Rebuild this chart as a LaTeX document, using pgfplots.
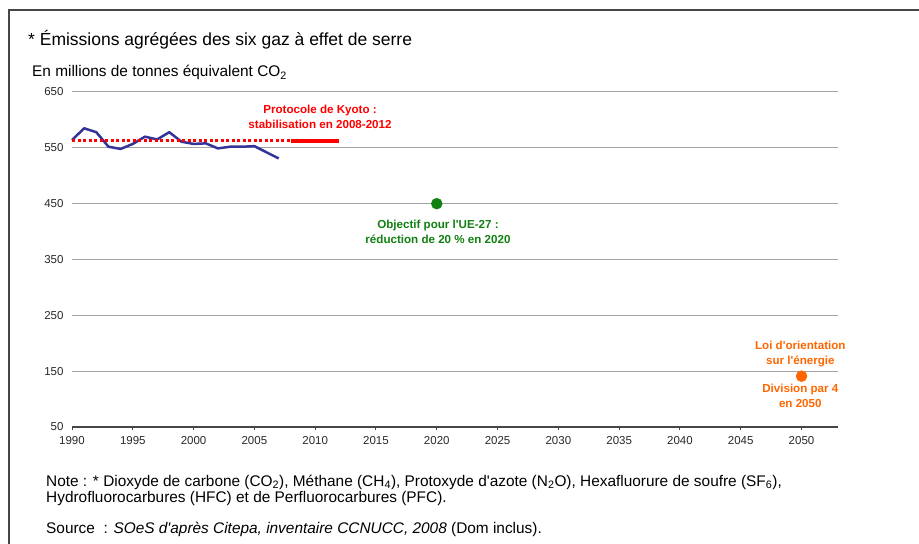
\documentclass[border=0pt]{standalone}
\usepackage{fontspec}
\setmainfont{Liberation Sans}
\usepackage{pgfplots}
\pgfplotsset{compat=1.18}
\definecolor{navy}{RGB}{51,51,153}
\definecolor{kred}{RGB}{255,0,0}
\definecolor{kgreen}{RGB}{16,128,16}
\definecolor{korange}{RGB}{255,102,0}
\definecolor{gridgray}{RGB}{165,165,165}
\definecolor{framegray}{RGB}{70,70,70}
\definecolor{ticktext}{RGB}{40,40,40}
\newcommand{\q}{\textquotesingle}
\begin{document}
\begin{tikzpicture}[x=1bp,y=1bp]
\path[use as bounding box] (0,0) rectangle (919,-544);
\draw[framegray, line width=1.5bp] (9,-544) -- (9,-10) -- (919,-10);
\node[anchor=base west, inner sep=0, font=\fontsize{17.5bp}{20bp}\selectfont] at (28,-46) {* Émissions agrégées des six gaz à effet de serre};
\node[anchor=base west, inner sep=0, font=\fontsize{15.4bp}{17bp}\selectfont] at (32,-77) {En millions de tonnes équivalent CO\textsubscript{2}};
\node[anchor=base west, inner sep=0, font=\fontsize{15.4bp}{17bp}\selectfont] at (46,-486) {Note : * Dioxyde de carbone (CO\textsubscript{2}), Méthane (CH\textsubscript{4}), Protoxyde d\q azote (N\textsubscript{2}O), Hexafluorure de soufre (SF\textsubscript{6}),};
\node[anchor=base west, inner sep=0, font=\fontsize{15.4bp}{17bp}\selectfont] at (46,-502) {Hydrofluorocarbures (HFC) et de Perfluorocarbures (PFC).};
\node[anchor=base west, inner sep=0, font=\fontsize{15.4bp}{17bp}\selectfont] at (46,-533) {Source~ : \textit{SOeS d\q après Citepa, inventaire CCNUCC, 2008} (Dom inclus).};
\begin{axis}[
  at={(72bp,-427bp)}, anchor=south west,
  scale only axis, width=766bp, height=335bp,
  xmin=1990, xmax=2053, ymin=50, ymax=650,
  axis x line=bottom, axis y line=left,
  x axis line style={-, draw=framegray, line width=1.2bp},
  y axis line style={draw=none},
  xtick={1990,1995,...,2050}, ytick={50,150,...,650},
  /pgf/number format/1000 sep={},
  /pgf/number format/assume math mode=true,
  ymajorgrids, grid style={gridgray, line width=1bp},
  tick align=outside,
  major tick length=3bp,
  x tick style={draw=framegray, line width=1bp},
  ytick style={draw=none},
  ticklabel style={font=\fontsize{11.5bp}{13bp}\selectfont, text=ticktext},
  x tick label style={yshift=-3bp},
  y tick label style={xshift=-2bp},
  clip=false,
]
\addplot[navy, line width=2.5bp, line join=round] coordinates {
(1990,564) (1991,585) (1992,578) (1993,552) (1994,548) (1995,557)
(1996,570) (1997,565) (1998,578) (1999,561) (2000,557) (2001,558)
(2002,549) (2003,552) (2004,552) (2005,553) (2006,542) (2007,531)};
\addplot[kred, line width=2.5bp, dash pattern=on 3bp off 2.5bp] coordinates {(1990,563) (2008,563)};
\addplot[kred, line width=4bp] coordinates {(2008,563) (2012,563)};
\addplot[only marks, mark=*, mark size=5.5bp, kgreen] coordinates {(2020,450)};
\addplot[only marks, mark=*, mark size=5.5bp, korange] coordinates {(2050,141)};
\node[kred, align=center, font=\bfseries\fontsize{11.6bp}{15bp}\selectfont] at (axis cs:2010.4,605) {Protocole de Kyoto :\\stabilisation en 2008-2012};
\node[kgreen, align=center, font=\bfseries\fontsize{11.6bp}{15bp}\selectfont] at (axis cs:2020.1,400) {Objectif pour l\q UE-27 :\\réduction de 20 \% en 2020};
\node[korange, align=center, font=\bfseries\fontsize{11.6bp}{15bp}\selectfont] at (axis cs:2049.9,180) {Loi d\q orientation\\sur l\q énergie};
\node[korange, align=center, font=\bfseries\fontsize{11.6bp}{15bp}\selectfont] at (axis cs:2049.9,106) {Division par 4\\en 2050};
\end{axis}
\end{tikzpicture}
\end{document}
